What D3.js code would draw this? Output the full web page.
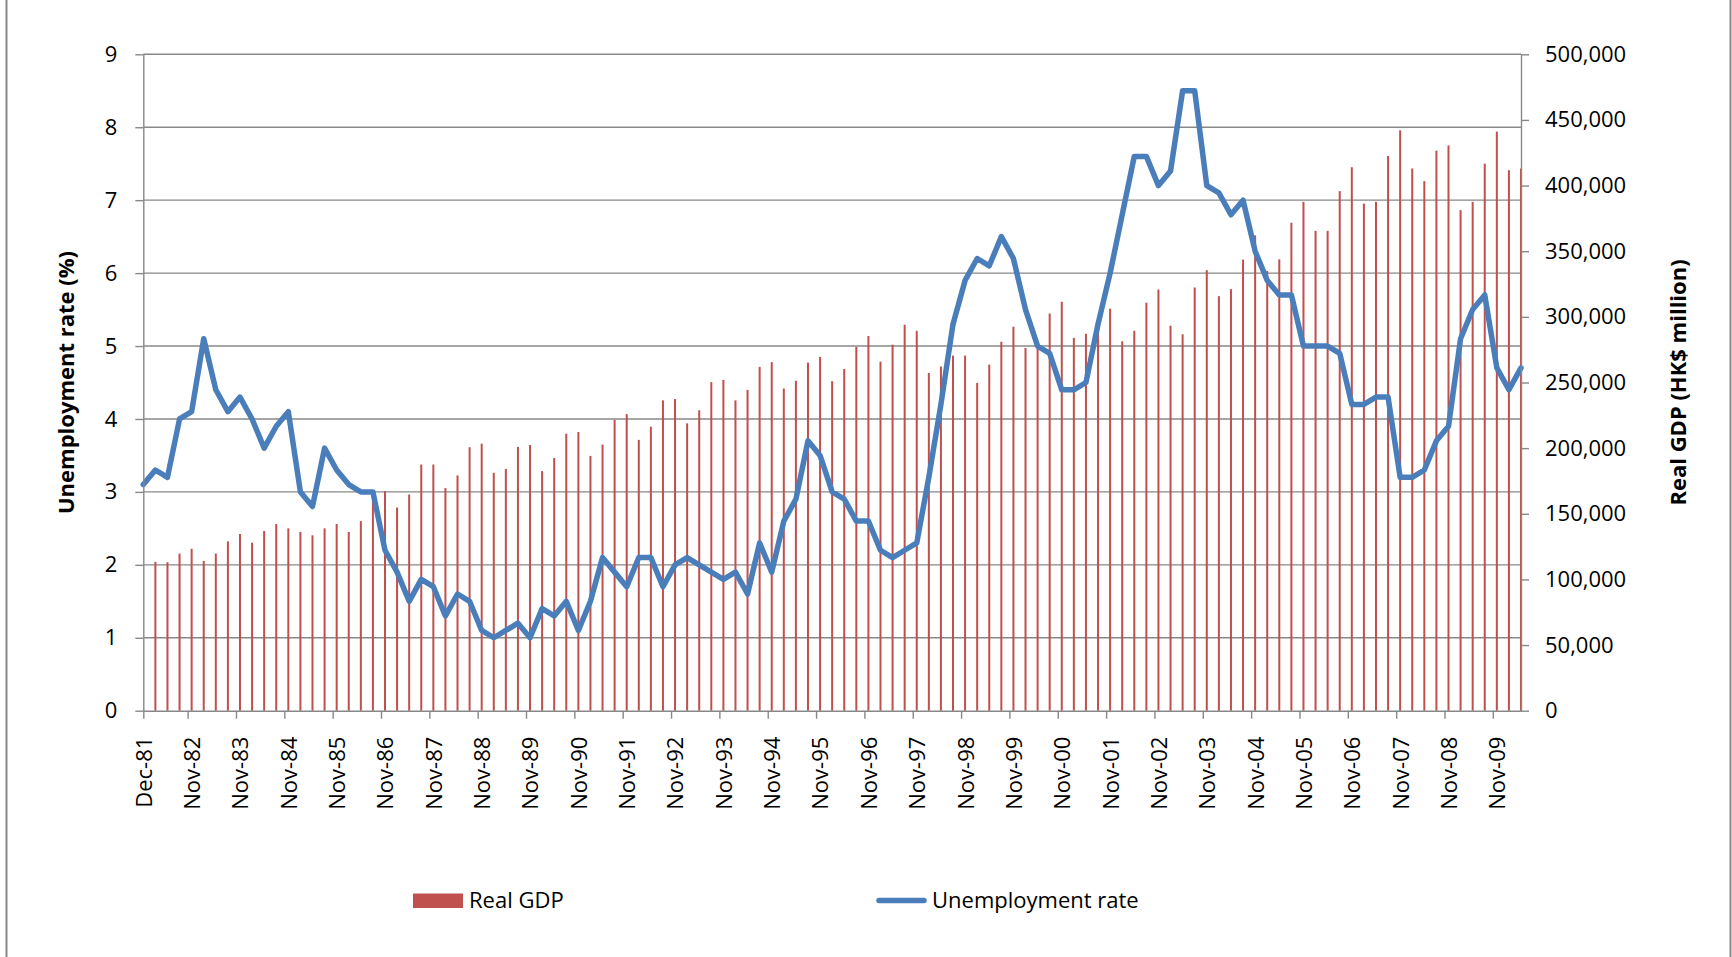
<!DOCTYPE html>
<html>
<head>
<meta charset="utf-8">
<script src="https://cdn.jsdelivr.net/npm/d3@7"></script>
<style>
	body { margin: 0; background: #fff; }
	svg text { font-family: "Open Sans", sans-serif; fill: #000; }
</style>
</head>
<body>
<script>
// unemployment rate (%), one value per period, Dec-81 onwards
var unemployment = [
	3.1, 3.3, 3.2, 4.0, 4.1, 5.1, 4.4, 4.1, 4.3, 4.0, 3.6, 3.9, 4.1, 3.0, 2.8, 3.6, 3.3, 3.1, 3.0, 3.0,
	2.2, 1.9, 1.5, 1.8, 1.7, 1.3, 1.6, 1.5, 1.1, 1.0, 1.1, 1.2, 1.0, 1.4, 1.3, 1.5, 1.1, 1.5, 2.1, 1.9,
	1.7, 2.1, 2.1, 1.7, 2.0, 2.1, 2.0, 1.9, 1.8, 1.9, 1.6, 2.3, 1.9, 2.6, 2.9, 3.7, 3.5, 3.0, 2.9, 2.6,
	2.6, 2.2, 2.1, 2.2, 2.3, 3.2, 4.2, 5.3, 5.9, 6.2, 6.1, 6.5, 6.2, 5.5, 5.0, 4.9, 4.4, 4.4, 4.5, 5.3,
	6.0, 6.8, 7.6, 7.6, 7.2, 7.4, 8.5, 8.5, 7.2, 7.1, 6.8, 7.0, 6.3, 5.9, 5.7, 5.7, 5.0, 5.0, 5.0, 4.9,
	4.2, 4.2, 4.3, 4.3, 3.2, 3.2, 3.3, 3.7, 3.9, 5.1, 5.5, 5.7, 4.7, 4.4, 4.7
];

// real GDP (HK$ million), first period has no value
var realGdp = [
	null, 113400, 113100, 119700, 123300, 114100, 119700, 129000, 134600, 128000,
	136900, 142200, 138900, 136200, 133600, 138900, 142200, 136200, 144400, 163000,
	167300, 154800, 164700, 187500, 187500, 169600, 179200, 200700, 203400, 181200,
	184200, 201000, 202400, 182500, 192500, 211000, 212300, 194100, 202700, 221600,
	225900, 206300, 216300, 236400, 237400, 218900, 228800, 250300, 252000, 236400,
	244400, 261900, 265500, 245400, 251300, 265200, 269500, 251000, 260300, 277100,
	285400, 265900, 278800, 294000, 289400, 257300, 262200, 270500, 270500, 249700,
	263600, 281100, 292500, 276300, 281000, 302600, 311500, 284000, 287100, 298000,
	306200, 281400, 289400, 310800, 320800, 293300, 286700, 322400, 335600, 315800,
	321100, 343600, 362100, 335000, 343800, 371700, 387600, 365500, 365500, 395800,
	414000, 386200, 387600, 422600, 442100, 413000, 403400, 426600, 430600, 381300,
	387600, 416700, 441100, 411700, 413000
];

// category labels shown every 4 periods
var tickLabels = ["Dec-81", "Nov-82", "Nov-83", "Nov-84", "Nov-85", "Nov-86", "Nov-87", "Nov-88",
	"Nov-89", "Nov-90", "Nov-91", "Nov-92", "Nov-93", "Nov-94", "Nov-95", "Nov-96", "Nov-97",
	"Nov-98", "Nov-99", "Nov-00", "Nov-01", "Nov-02", "Nov-03", "Nov-04", "Nov-05", "Nov-06",
	"Nov-07", "Nov-08", "Nov-09"];
var tickStep = 4;

var rateTicks = [0, 1, 2, 3, 4, 5, 6, 7, 8, 9];
var gdpTicks = [0, 50000, 100000, 150000, 200000, 250000, 300000, 350000, 400000, 450000, 500000];

(function(){
	var W = 1732, H = 957,
		pl = 143.3, pr = 1521, pt = 54.3, pb = 710.7,
		grey = "#888888";

	var svg = d3.select("body").append("svg").attr("width", W).attr("height", H);

	// chart area border (only left and right sides fall inside the picture)
	svg.append("rect").attr("x", 6.5).attr("y", -10).attr("width", 1724).attr("height", H + 20)
		.attr("fill", "none").attr("stroke", grey).attr("stroke-width", 2);

	var x = d3.scalePoint().domain(d3.range(unemployment.length)).range([pl, pr]);
	var yL = d3.scaleLinear().domain([0, 9]).range([pb, pt]);
	var yR = d3.scaleLinear().domain([0, 500000]).range([pb, pt]);

	// gridlines
	svg.append("g").selectAll("line").data(rateTicks.slice(1)).enter().append("line")
		.attr("x1", pl).attr("x2", pr)
		.attr("y1", function(d) { return yL(d); }).attr("y2", function(d) { return yL(d); })
		.attr("stroke", grey).attr("stroke-width", 1.4);

	// GDP bars
	svg.append("g").selectAll("rect")
		.data(realGdp.map(function(v, i) { return {i: i, v: v}; }).filter(function(d) { return d.v != null; }))
		.enter().append("rect")
		.attr("x", function(d) { return x(d.i) - 1; })
		.attr("width", 2)
		.attr("y", function(d) { return yR(d.v); })
		.attr("height", function(d) { return pb - yR(d.v); })
		.attr("fill", "#C0504D");

	// unemployment line
	var line = d3.line().x(function(d, i) { return x(i); }).y(function(d) { return yL(d); });
	svg.append("path").datum(unemployment).attr("d", line)
		.attr("fill", "none").attr("stroke", "#4A7EBB").attr("stroke-width", 5.5)
		.attr("stroke-linejoin", "round").attr("stroke-linecap", "round");

	function styleAxis(g) {
		g.select(".domain").attr("stroke", grey).attr("stroke-width", 1.4);
		g.selectAll(".tick line").attr("stroke", grey).attr("stroke-width", 1.4);
		g.selectAll("text").style("font-size", "22px").attr("fill", "#000");
	}

	var axL = svg.append("g").attr("transform", "translate(" + pl + ",0)")
		.call(d3.axisLeft(yL).tickValues(rateTicks).tickSize(8).tickSizeOuter(0).tickPadding(18));
	styleAxis(axL);

	var axR = svg.append("g").attr("transform", "translate(" + pr + ",0)")
		.call(d3.axisRight(yR).tickValues(gdpTicks).tickSize(8).tickSizeOuter(0).tickPadding(16)
			.tickFormat(d3.format(",")));
	styleAxis(axR);

	var axB = svg.append("g").attr("transform", "translate(0," + pb + ")")
		.call(d3.axisBottom(x).tickValues(tickLabels.map(function(d, i) { return i * tickStep; }))
			.tickSize(8).tickSizeOuter(0)
			.tickFormat(function(d) { return tickLabels[d / tickStep]; }));
	styleAxis(axB);
	axB.selectAll(".tick line").attr("transform", function(d) { return d ? "translate(-4,0)" : null; });
	axB.selectAll(".tick text")
		.attr("transform", "rotate(-90)")
		.attr("x", -26).attr("y", 0).attr("dy", "0.36em")
		.style("text-anchor", "end");

	// axis titles
	svg.append("text").attr("transform", "translate(66," + (pt + pb) / 2 + ") rotate(-90)")
		.attr("text-anchor", "middle").attr("dy", "0.35em")
		.style("font-size", "22px").style("font-weight", "bold")
		.text("Unemployment rate (%)");
	svg.append("text").attr("transform", "translate(1678," + (pt + pb) / 2 + ") rotate(-90)")
		.attr("text-anchor", "middle").attr("dy", "0.35em")
		.style("font-size", "22px").style("font-weight", "bold")
		.text("Real GDP (HK$ million)");

	// legend
	var leg = svg.append("g");
	leg.append("rect").attr("x", 413).attr("y", 893.5).attr("width", 50).attr("height", 14.5).attr("fill", "#C0504D");
	leg.append("text").attr("x", 469).attr("y", 908).style("font-size", "22px").text("Real GDP");
	leg.append("line").attr("x1", 879).attr("x2", 924).attr("y1", 900.5).attr("y2", 900.5)
		.attr("stroke", "#4A7EBB").attr("stroke-width", 5.5).attr("stroke-linecap", "round");
	leg.append("text").attr("x", 932).attr("y", 908).style("font-size", "22px").text("Unemployment rate");
})();
</script>
</body>
</html>
